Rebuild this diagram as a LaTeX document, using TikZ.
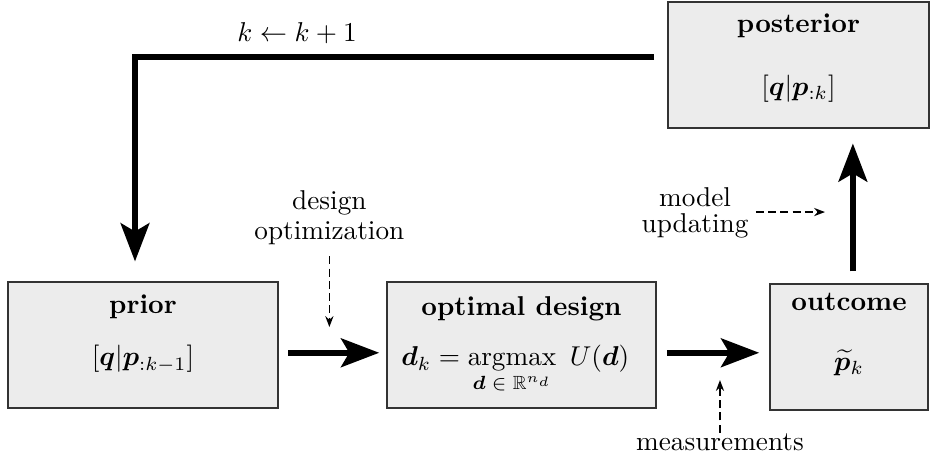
\documentclass[tikz,border=0pt]{standalone}
\usepackage{amsmath,amssymb,bm}
\usetikzlibrary{arrows.meta}

\begin{document}
\begin{tikzpicture}[>=Stealth,
		box/.style={draw=black!80, line width=0.5pt, fill=gray!15, minimum height=1.626cm, inner sep=0pt},
		title/.style={anchor=base, font=\bfseries, inner sep=1pt},
		form/.style={anchor=base, inner sep=1pt},
		flow/.style={line width=2.2pt, -{Stealth[length=14pt,width=10.5pt,inset=3pt]}},
		hint/.style={dash pattern=on 3pt off 1.5pt, line width=0.6pt, -{Stealth[length=4pt,width=3pt]}},
		note/.style={align=center, inner sep=1pt}]
		\useasboundingbox (0,0) rectangle (12,5.91);
		% boxes
		\node[box, minimum width=3.484cm] (prior) at (1.845,1.458) {};
		\node[box, minimum width=3.471cm] (opt) at (6.729,1.458) {};
		\node[box, minimum width=2.039cm] (outcome) at (10.955,1.432) {};
		\node[box, minimum width=3.368cm] (post) at (10.303,5.071) {};
		% texts in the boxes
		\node[title] (priortitle) at ([yshift=-0.41cm]prior.north) {prior};
		\node[form] (priorform) at ([yshift=-0.27cm]prior.center) {$[\bm{q}|\bm{p}_{:k-1}]$};
		\node[title] (opttitle) at ([yshift=-0.44cm]opt.north) {optimal design};
		\node[form] (optform) at ([xshift=-0.08cm,yshift=-0.27cm]opt.center)
			{$\displaystyle \bm{d}_k = \operatorname*{argmax}_{\bm{d}\;\in\;\mathbb{R}^{n_d}}\ U(\bm{d})$};
		\node[title] (outtitle) at ([yshift=-0.35cm]outcome.north) {outcome};
		\node[form] (outform) at ([yshift=-0.297cm]outcome.center) {$\widetilde{\bm{p}}_k$};
		\node[title] (posttitle) at ([yshift=-0.40cm]post.north) {posterior};
		\node[form] (postform) at ([yshift=-0.39cm]post.center) {$[\bm{q}|\bm{p}_{:k}]$};
		% main loop
		\draw[flow, shorten <=3.5pt, shorten >=2.6pt] ([yshift=-0.1cm]prior.east) -- ([yshift=-0.1cm]opt.west);
		\draw[flow, shorten <=3.7pt, shorten >=3.7pt] ([yshift=-0.1cm]opt.east) -- ([yshift=-0.1cm]opt.east -| outcome.west);
		\draw[flow, shorten <=4.4pt, shorten >=5.4pt] ([xshift=0.05cm]outcome.north) -- ([xshift=0.05cm]outcome.north |- post.south);
		\coordinate (turn) at (1.742,5.174);
		\draw[flow, shorten <=4.8pt, shorten >=7.3pt] (post.west |- turn) -- (turn) -- (turn |- prior.north);
		\node[anchor=base] (loop) at (3.832,5.375) {$k \leftarrow k+1$};
		% side notes
		\node[note] (dsg) at (4.25,3.10) {design\\[-1pt]optimization};
		\coordinate (dsgend) at (4.25,1.69);
		\draw[hint, shorten <=3pt] (dsg) -- (dsgend);
		\node[note, anchor=base] (meas) at (9.29,0.103) {measurements};
		\coordinate (measend) at (9.29,1.006);
		\draw[hint, shorten <=-1pt] (meas) -- (measend);
		\node[note] (mdl) at (8.968,3.16) {model\\[-2.5pt]updating};
		\coordinate (mdlend) at (10.645,3.174);
		\draw[hint, shorten <=1.5pt] (mdl.east |- mdlend) -- (mdlend);
\end{tikzpicture}
\end{document}
